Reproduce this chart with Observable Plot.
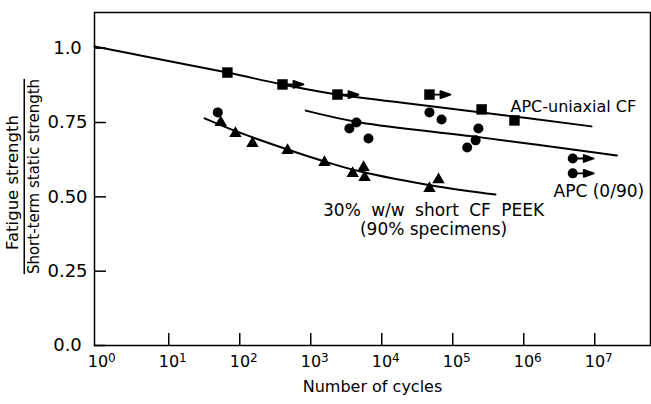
<!DOCTYPE html>
<html><head><meta charset="utf-8">
<script src="https://cdn.jsdelivr.net/npm/d3@7"></script>
<script src="https://cdn.jsdelivr.net/npm/@observablehq/plot@0.6"></script>
<style>body{margin:0;background:#fff} svg{display:block}</style>
</head><body><div id="chart"></div>
<script>
// ---- ticks ----
const xTicks = [1, 10, 100, 1e3, 1e4, 1e5, 1e6, 1e7];
const xTickLabels = ["10⁰","10¹","10²","10³","10⁴","10⁵","10⁶","10⁷"];
const yTicks = [0, 0.25, 0.5, 0.75, 1.0];
const yTickLabels = ["0.0","0.25","0.50","0.75","1.0"];

// ---- APC-uniaxial CF ----
const uniCurveN = [0.9, 4.7, 67, 400, 2380, 18400, 2.55e5, 9.0e6];
const uniCurveV = [1.006, 0.972, 0.918, 0.878, 0.844, 0.817, 0.784, 0.737];
const uniN = [67, 400, 2380, 47000, 2.55e5, 7.4e5];
const uniV = [0.918, 0.878, 0.844, 0.844, 0.794, 0.757];
const uniRunout = [false, true, true, true, false, false];

// ---- APC (0/90) ----
const xpCurveN = [850, 5000, 2.47e5, 2.05e7];
const xpCurveV = [0.790, 0.750, 0.700, 0.639];
const xpN = [49, 3500, 4400, 6500, 47000, 69500, 2.3e5, 2.1e5, 1.6e5, 4.9e6, 4.9e6];
const xpV = [0.784, 0.730, 0.750, 0.696, 0.784, 0.760, 0.730, 0.690, 0.666, 0.629, 0.579];
const xpRunout = [false, false, false, false, false, false, false, false, false, true, true];

// ---- 30% w/w short CF PEEK ----
const peekCurveN = [32, 90, 471, 1560, 5000, 61000, 4.0e5];
const peekCurveV = [0.764, 0.720, 0.659, 0.619, 0.585, 0.535, 0.508];
const peekN = [54, 87, 151, 471, 1560, 3900, 5550, 5730, 47000, 63000];
const peekV = [0.750, 0.713, 0.680, 0.656, 0.616, 0.579, 0.599, 0.565, 0.528, 0.558];

// ---- annotations ----
const labelText = ["APC-uniaxial CF", "APC (0/90)", "30% w/w short CF PEEK", "(90% specimens)"];
const labelN = [6.5e5, 2.63e6, 5.37e4, 5.37e4];
const labelV = [0.787, 0.501, 0.434, 0.373];
const labelSize = [16, 17, 17, 17];

const rows = (N, V, extra) => N.map((n, i) => ({N: n, v: V[i], flag: extra ? extra[i] : false}));
const uniCurve = rows(uniCurveN, uniCurveV);
const xpCurve = rows(xpCurveN, xpCurveV);
const peekCurve = rows(peekCurveN, peekCurveV);
const uniPts = rows(uniN, uniV, uniRunout);
const xpPts = rows(xpN, xpV, xpRunout);
const peekPts = rows(peekN, peekV);
const labels = labelText.map((t, i) => ({t, N: labelN[i], v: labelV[i], s: labelSize[i]}));
const xLabelMap = new Map(xTicks.map((d, i) => [d, xTickLabels[i]]));
const yLabelMap = new Map(yTicks.map((d, i) => [d, yTickLabels[i]]));

const runoutArrow = {
  draw(ctx, l) {
    ctx.moveTo(0, 0); ctx.lineTo(0, -l + 8);
    ctx.moveTo(0, -l); ctx.lineTo(-3.5, -l + 10); ctx.lineTo(3.5, -l + 10); ctx.closePath();
  }
};

const runouts = [...uniPts, ...xpPts].filter(d => d.flag);

const chart = Plot.plot({
  width: 651, height: 404,
  marginLeft: 94, marginRight: 1, marginTop: 12, marginBottom: 59,
  style: {fontFamily: "DejaVu Sans", fontSize: "16px", background: "white", color: "black"},
  x: {type: "log", domain: [0.9, 6.1e7], label: null},
  y: {domain: [0, 1.12], label: null},
  marks: [
    Plot.frame({strokeWidth: 1.5}),
    // y ticks (inward) and labels
    Plot.axisY(yTicks, {anchor: "left", tickSize: -12, fill: "none", strokeWidth: 1.5, label: null}),
    Plot.axisY(yTicks, {anchor: "left", tickSize: 0, tickPadding: 27, textAnchor: "middle", fontSize: 18, tickFormat: d => yLabelMap.get(d), label: null}),
    // x ticks (inward) and labels
    Plot.axisX(xTicks.slice(1), {anchor: "bottom", tickSize: -12, fill: "none", strokeWidth: 1.5, label: null}),
    Plot.axisX(xTicks, {anchor: "bottom", tickSize: 0, tickPadding: 10, dx: 4, fontSize: 16, tickFormat: d => xLabelMap.get(d), label: null}),
    // axis titles
    Plot.text(["Number of cycles"], {frameAnchor: "bottom", dy: 46, lineAnchor: "bottom", fontSize: 16}),
    Plot.text(["Fatigue strength"], {frameAnchor: "left", rotate: -90, textAnchor: "middle", dx: -77, dy: 3.5, lineAnchor: "bottom", fontSize: 16.5}),
    Plot.text(["Short-term static strength"], {frameAnchor: "left", rotate: -90, textAnchor: "middle", dx: -56, dy: -2.5, lineAnchor: "bottom", fontSize: 15}),
    // curves
    Plot.line(uniCurve, {x: "N", y: "v", curve: "catmull-rom", strokeWidth: 2}),
    Plot.line(xpCurve, {x: "N", y: "v", curve: "catmull-rom", strokeWidth: 2}),
    Plot.line(peekCurve, {x: "N", y: "v", curve: "catmull-rom", strokeWidth: 2}),
    // run-out arrows
    Plot.vector(runouts, {x: "N", y: "v", length: 21, rotate: 90, anchor: "start", shape: runoutArrow, stroke: "black", fill: "black", strokeWidth: 1.8}),
    // points
    Plot.dot(uniPts, {x: "N", y: "v", symbol: "square", r: 5.9, fill: "black", stroke: "none"}),
    Plot.dot(xpPts, {x: "N", y: "v", symbol: "circle", r: 5, fill: "black", stroke: "none"}),
    Plot.dot(peekPts, {x: "N", y: "v", symbol: "triangle", r: 4.6, fill: "black", stroke: "none"}),
    // annotations
    Plot.text(labels.slice(0, 2), {x: "N", y: "v", text: "t", textAnchor: "start", fontSize: "s", lineAnchor: "bottom"}),
    Plot.text(labels.slice(2), {x: "N", y: "v", text: "t", textAnchor: "middle", fontSize: "s", lineAnchor: "bottom"})
  ]
});
document.getElementById("chart").append(chart);

// finishing touches on texts
const sup = "⁰¹²³⁴⁵⁶⁷⁸⁹";
d3.select(chart).selectAll("text").each(function() {
  const t = this.textContent;
  if (t === "Short-term static strength") this.style.textDecoration = "overline";
  if (t === "30% w/w short CF PEEK") this.style.wordSpacing = "5px";
  if (xTickLabels.includes(t)) {
    const e = sup.indexOf(t.slice(2));
    this.textContent = "10";
    d3.select(this).append("tspan").attr("dy", "-0.42em").attr("font-size", "12px").text(String(e));
  }
});
</script>
</body></html>
